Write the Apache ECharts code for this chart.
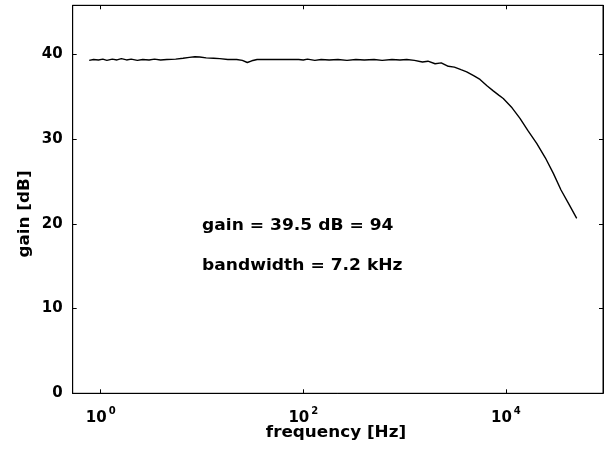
<!DOCTYPE html>
<html>
<head>
<meta charset="utf-8">
<script src="https://cdn.jsdelivr.net/npm/echarts@6/dist/echarts.min.js"></script>
<style>html,body{margin:0;padding:0;background:#fff}#c{width:604px;height:454px}</style>
</head>
<body>
<div id="c"></div>
<script>
// frequency in Hz
const freq = [0.77,0.85,0.95,1.05,1.15,1.3,1.45,1.6,1.8,2.0,2.3,2.6,3.0,3.4,3.9,4.5,5.5,6.5,7.5,8.5,9.5,11,13,15,18,22,25,28,31,35,50,70,90,100,110,130,150,180,220,270,330,400,500,600,750,900,1050,1250,1500,1700,2000,2300,2700,3100,3600,4100,4800,5550,6500,7500,8500,9420,11500,13770,16500,20140,24500,29400,35000,42000,50000];
// gain in dB
const gain = [39.3,39.4,39.35,39.45,39.3,39.45,39.35,39.5,39.35,39.45,39.3,39.4,39.35,39.45,39.35,39.4,39.45,39.55,39.65,39.72,39.7,39.6,39.55,39.5,39.4,39.4,39.3,39.05,39.25,39.4,39.4,39.4,39.4,39.35,39.45,39.3,39.4,39.35,39.4,39.3,39.4,39.35,39.4,39.3,39.4,39.35,39.4,39.3,39.1,39.2,38.9,39.0,38.6,38.5,38.2,37.95,37.5,37.05,36.3,35.7,35.2,34.8,33.7,32.45,31.0,29.5,27.8,25.96,24.0,22.3,20.65];
// tick positions (log10 of frequency) and y ticks
const xTickExp = [0, 2, 4];
const yTicks = [0, 10, 20, 30, 40];
const annotations = ['gain = 39.5 dB = 94', 'bandwidth = 7.2 kHz'];
const xTitle = 'frequency [Hz]';
const yTitle = 'gain [dB]';

const FONT = 'DejaVu Sans';
const data = freq.map((f, i) => [Math.log10(f), gain[i]]);

const chart = echarts.init(document.getElementById('c'), null, {renderer: 'canvas'});
const xBase = {
  type: 'value', min: -0.2764, max: 4.9585,
  splitLine: {show: false},
  axisLine: {show: true, onZero: false, lineStyle: {color: '#000', width: 1}}
};
const yBase = {
  type: 'value', min: 0, max: 45.8,
  splitLine: {show: false},
  axisLine: {show: true, onZero: false, lineStyle: {color: '#000', width: 1}}
};
const txt = (s, x, y, sx, rot) => ({
  type: 'text', x: x, y: y, scaleX: sx, rotation: rot || 0,
  style: {text: s, fill: '#000', font: 'bold 15px ' + FONT, align: rot ? 'center' : 'left', verticalAlign: 'middle'}
});
chart.setOption({
  animation: false,
  backgroundColor: '#fff',
  grid: {left: 72.7, top: 5.3, right: 1, bottom: 60.7, show: true, borderColor: '#000', borderWidth: 1},
  xAxis: [
    Object.assign({}, xBase, {
      position: 'bottom',
      axisTick: {show: true, inside: true, length: 4, customValues: xTickExp, lineStyle: {color: '#000'}},
      axisLabel: {
        customValues: xTickExp, margin: 13, color: '#000',
        formatter: v => '{b|10}{s|' + Math.round(v) + '}',
        rich: {
          b: {fontFamily: FONT, fontWeight: 'bold', fontSize: 15, color: '#000', verticalAlign: 'bottom'},
          s: {fontFamily: FONT, fontWeight: 'bold', fontSize: 10, color: '#000', verticalAlign: 'bottom', padding: [0, 0, 9, 2]}
        }
      }
    }),
    Object.assign({}, xBase, {
      position: 'top',
      axisTick: {show: true, inside: true, length: 4, customValues: xTickExp, lineStyle: {color: '#000'}},
      axisLabel: {show: false}
    })
  ],
  yAxis: [
    Object.assign({}, yBase, {
      position: 'left',
      axisTick: {show: true, inside: true, length: 4, customValues: yTicks, lineStyle: {color: '#000'}},
      axisLabel: {customValues: yTicks, margin: 10, color: '#000', fontFamily: FONT, fontWeight: 'bold', fontSize: 15}
    }),
    Object.assign({}, yBase, {
      position: 'right',
      axisTick: {show: true, inside: true, length: 4, customValues: yTicks, lineStyle: {color: '#000'}},
      axisLabel: {show: false}
    })
  ],
  series: [{
    type: 'line', data: data, showSymbol: false, symbol: 'none',
    lineStyle: {color: '#000', width: 1.4}, clip: true
  }],
  graphic: [
    {type: 'text', x: 25, y: 214, rotation: Math.PI / 2, scaleX: 1.12,
     style: {text: yTitle, fill: '#000', font: 'bold 15px ' + FONT, align: 'center', verticalAlign: 'middle'}},
    {type: 'text', x: 336, y: 433, scaleX: 1.12,
     style: {text: xTitle, fill: '#000', font: 'bold 15px ' + FONT, align: 'center', verticalAlign: 'middle'}},
    txt(annotations[0], 202, 226, 1.14),
    txt(annotations[1], 202, 266, 1.14)
  ]
});
</script>
</body>
</html>
